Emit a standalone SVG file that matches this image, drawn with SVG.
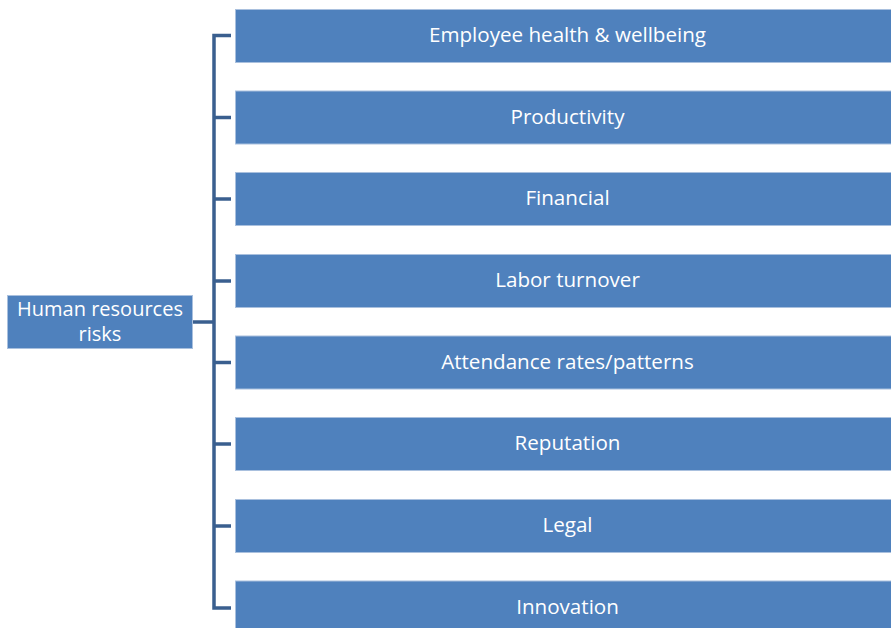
<svg xmlns="http://www.w3.org/2000/svg" width="891" height="628" viewBox="0 0 891 628">
  <style>
    .box { fill: #4F81BD; stroke: #A9C0DE; stroke-width: 1; }
    .label { fill: #FFFFFF; font-family: "Open Sans", Lato, "Liberation Sans", sans-serif; font-size: 20.6px; text-anchor: middle; }
    .root-label { font-size: 20px; }
    .link { fill: none; stroke: #3A5F8F; stroke-width: 3.5; }
  </style>
  <rect width="891" height="628" fill="#FFFFFF"/>

  <g id="connectors">
    <path class="link" d="M192,322 H214"/>
    <path class="link" d="M231,35.5 H214 V608 H231"/>
    <path class="link" d="M214,117.5 H231"/>
    <path class="link" d="M214,199 H231"/>
    <path class="link" d="M214,281 H231"/>
    <path class="link" d="M214,362.5 H231"/>
    <path class="link" d="M214,444 H231"/>
    <path class="link" d="M214,526 H231"/>
  </g>

  <g id="root">
    <rect class="box" x="7.5" y="295.5" width="185" height="53"/>
    <text class="label root-label" x="100" y="316">Human resources</text>
    <text class="label root-label" x="100" y="341">risks</text>
  </g>

  <g id="n1">
    <rect class="box" x="235.5" y="9.5" width="665" height="53"/>
    <text class="label" x="567.5" y="42">Employee health &amp; wellbeing</text>
  </g>
  <g id="n2">
    <rect class="box" x="235.5" y="91" width="665" height="53"/>
    <text class="label" x="567.5" y="123.5">Productivity</text>
  </g>
  <g id="n3">
    <rect class="box" x="235.5" y="172.5" width="665" height="53"/>
    <text class="label" x="567.5" y="205">Financial</text>
  </g>
  <g id="n4">
    <rect class="box" x="235.5" y="254.5" width="665" height="53"/>
    <text class="label" x="567.5" y="287">Labor turnover</text>
  </g>
  <g id="n5">
    <rect class="box" x="235.5" y="336" width="665" height="53"/>
    <text class="label" x="567.5" y="368.5">Attendance rates/patterns</text>
  </g>
  <g id="n6">
    <rect class="box" x="235.5" y="417.5" width="665" height="53"/>
    <text class="label" x="567.5" y="450">Reputation</text>
  </g>
  <g id="n7">
    <rect class="box" x="235.5" y="499.5" width="665" height="53"/>
    <text class="label" x="567.5" y="532">Legal</text>
  </g>
  <g id="n8">
    <rect class="box" x="235.5" y="581" width="665" height="53"/>
    <text class="label" x="567.5" y="613.5">Innovation</text>
  </g>
</svg>
